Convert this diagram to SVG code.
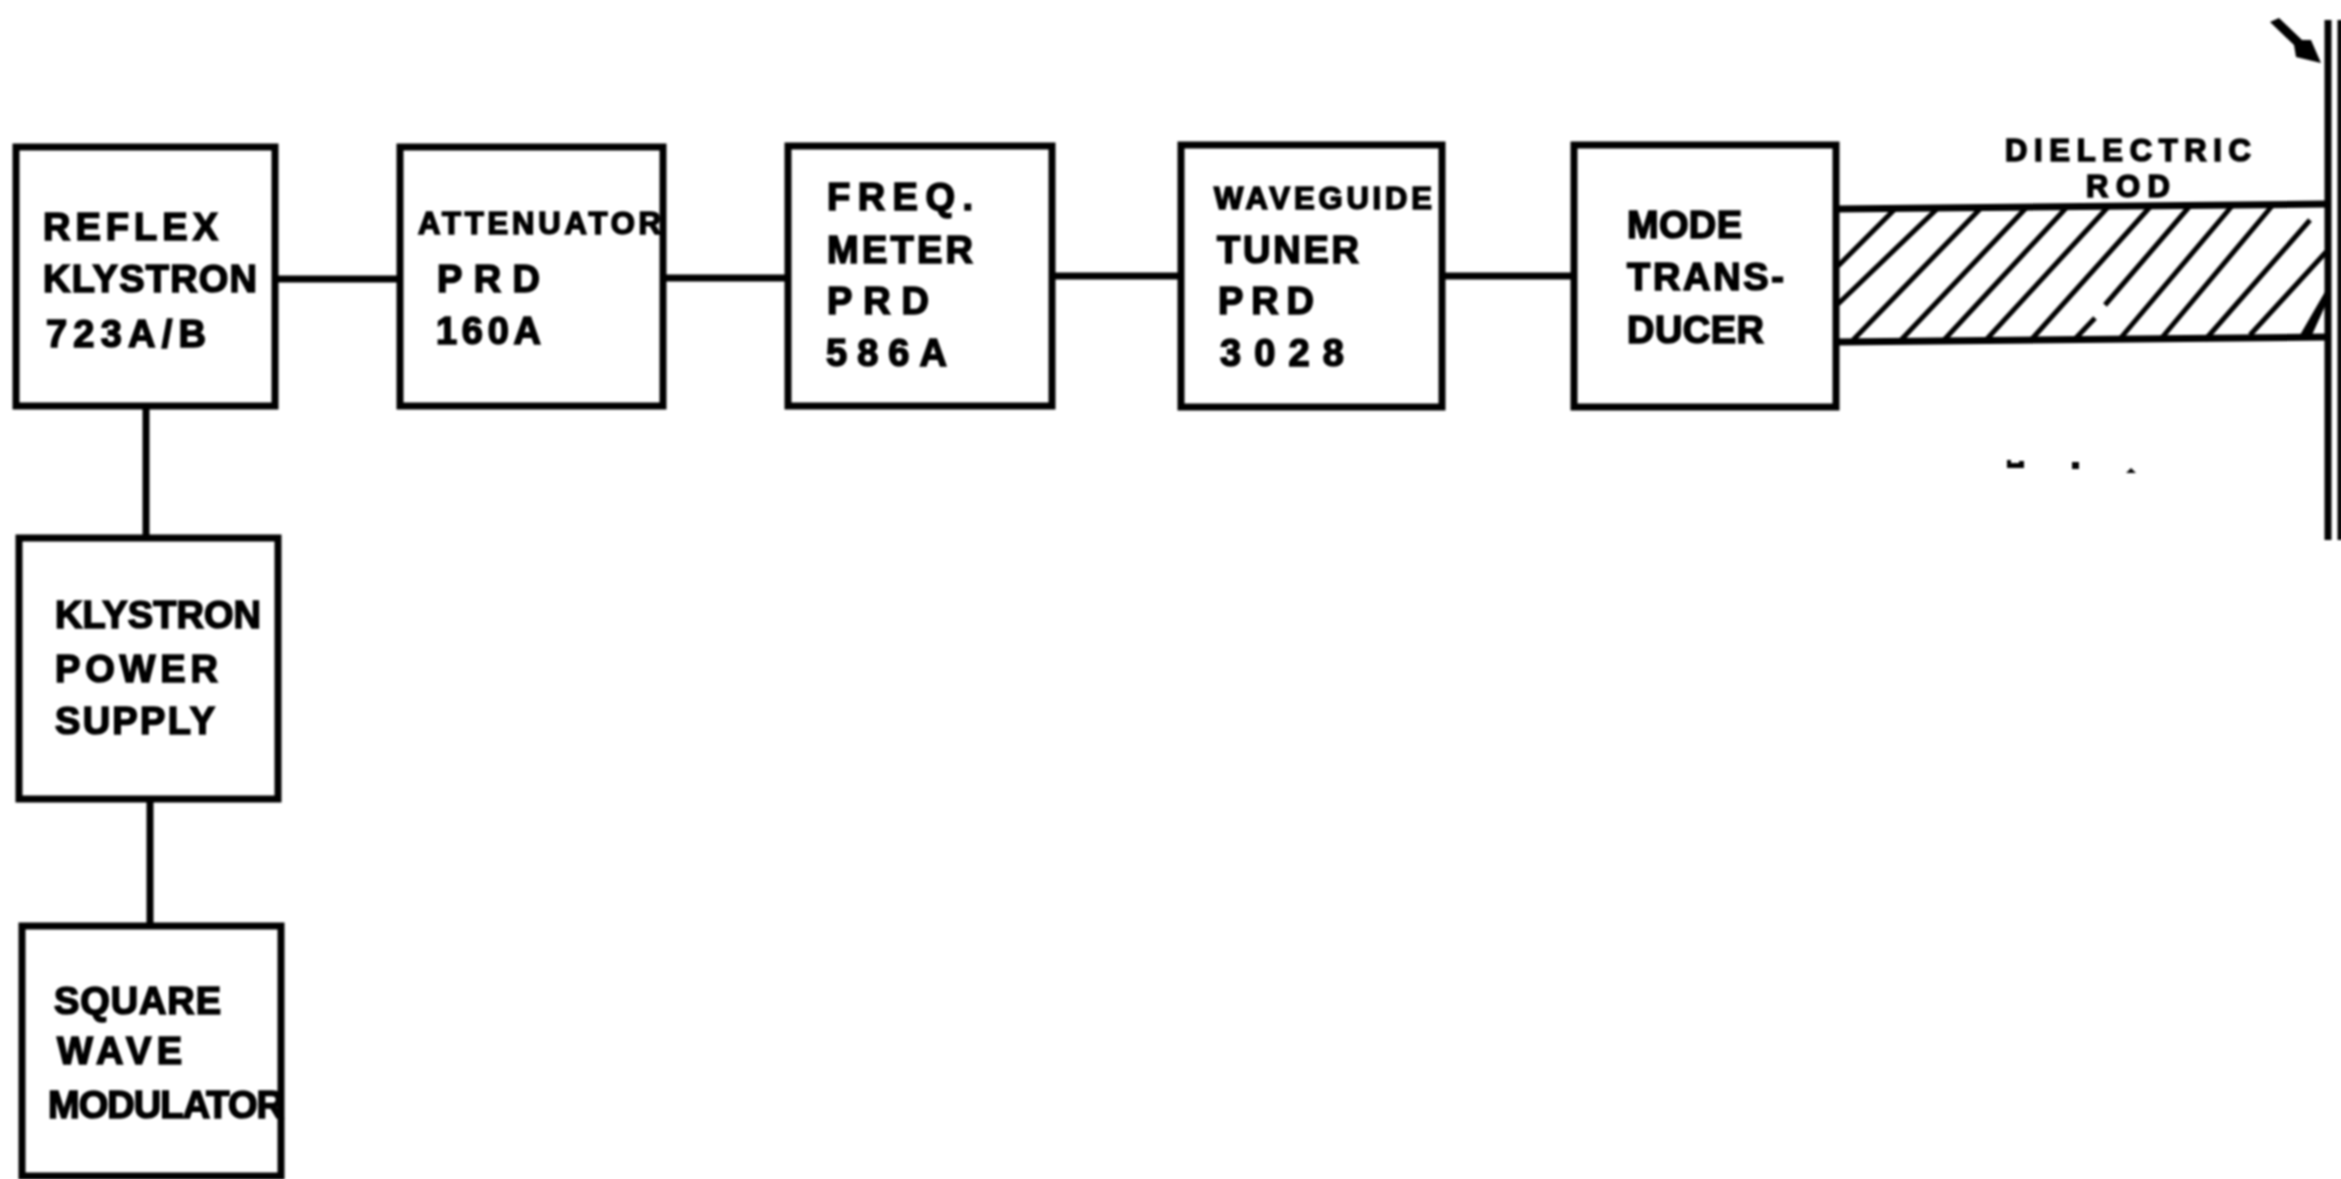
<svg xmlns="http://www.w3.org/2000/svg" width="2341" height="1179" viewBox="0 0 2341 1179">
<style>
.b{fill:none;stroke:#000;stroke-width:7}
.c{fill:none;stroke:#000;stroke-width:7}
.h{fill:none;stroke:#000;stroke-width:5}
text{font-family:"Liberation Sans",Arial,sans-serif;font-weight:700;font-size:38px;fill:#000;stroke:#000;stroke-width:1.6}
.s{font-size:31px}
</style>
<defs><filter id="soft" x="0" y="0" width="100%" height="100%" filterUnits="userSpaceOnUse"><feGaussianBlur stdDeviation="0.8"/></filter></defs>
<rect width="2341" height="1179" fill="#fff"/>
<g filter="url(#soft)">
<g id="connectors">
<path class="c" d="M275 279H400M663 278H788M1052 276H1181M1442 276H1574M146 406V537M150 799V926"/>
</g>
<g id="klystron"><rect class="b" x="16" y="147" width="259" height="259"/>
<text x="43" y="240" textLength="175">REFLEX</text><text x="43" y="292" textLength="214">KLYSTRON</text><text x="46" y="347" textLength="160">723A/B</text></g>
<g id="attenuator"><rect class="b" x="400" y="147" width="263" height="259"/>
<text class="s" x="418" y="234" textLength="243">ATTENUATOR</text><text x="437" y="292" textLength="103">PRD</text><text x="436" y="344" textLength="105">160A</text></g>
<g id="freq-meter"><rect class="b" x="788" y="146" width="264" height="260"/>
<text x="827" y="210" textLength="146">FREQ.</text><text x="827" y="263" textLength="146">METER</text><text x="827" y="314" textLength="102">PRD</text><text x="826" y="366" textLength="121">586A</text></g>
<g id="waveguide-tuner"><rect class="b" x="1181" y="145" width="261" height="262"/>
<text class="s" x="1214" y="209" textLength="218">WAVEGUIDE</text><text x="1217" y="263" textLength="142">TUNER</text><text x="1218" y="314" textLength="96">PRD</text><text x="1220" y="366" textLength="124">3028</text></g>
<g id="mode-transducer"><rect class="b" x="1574" y="145" width="262" height="262"/>
<text x="1627" y="238" textLength="115">MODE</text><text x="1627" y="290" textLength="157">TRANS-</text><text x="1627" y="343" textLength="137">DUCER</text></g>
<g id="power-supply"><rect class="b" x="19" y="538" width="259" height="261"/>
<text x="55" y="628" textLength="206">KLYSTRON</text><text x="55" y="682" textLength="163">POWER</text><text x="55" y="734" textLength="160">SUPPLY</text></g>
<g id="modulator"><rect class="b" x="22" y="926" width="259" height="250"/>
<text x="54" y="1014" textLength="167">SQUARE</text><text x="57" y="1064" textLength="125">WAVE</text><text x="48" y="1118" textLength="236">MODULATOR</text></g>
<g id="dielectric-rod">
<path class="b" d="M1836 209L2328 204M1836 342L2328 337"/>
<path class="h" d="M1838 266L1895 209M1838 304L1938 208M1853 340L1981 208M1901 340L2026 208M1944 340L2067 207M1986 340L2108 207M2031 340L2150 207M2074 340L2095 318M2105 305L2189 207M2119 340L2232 206M2160 340L2272 206M2205 340L2310 220M2250 335L2326 252"/>
<path d="M2300 335L2326 290V304L2312 335Z"/>
<text class="s" x="2005" y="161" textLength="246">DIELECTRIC</text><text class="s" x="2086" y="197" textLength="84">ROD</text>
</g>
<g id="wall">
<path class="c" d="M2328 20V540"/>
<path class="h" d="M2340 20V540"/>
<path d="M2270 22L2279 18L2302 40L2311 40L2321 63L2296 57L2294 45Z"/>
</g>
<g id="specks"><path d="M2007 460h4v3h8v-2h5v7h-17ZM2072 462h7v7h-7ZM2126 473l5-5 5 5Z"/></g>
</g>
</svg>
